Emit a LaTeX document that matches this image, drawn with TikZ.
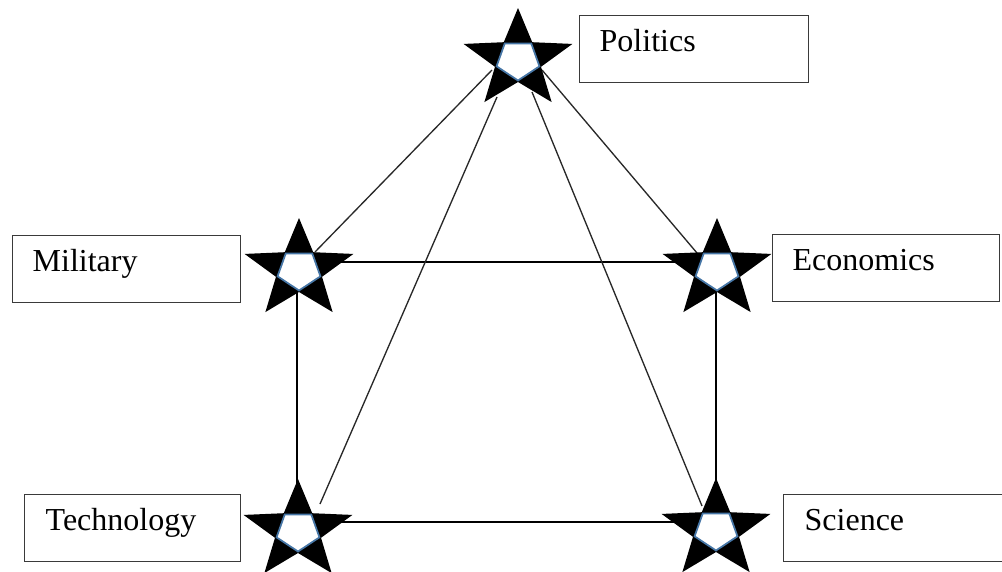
\documentclass[tikz,border=0pt]{standalone}
\usepackage{fontspec}
\setmainfont{Liberation Serif}
\usetikzlibrary{calc,positioning}
\definecolor{starBlue}{RGB}{70,118,166}
\definecolor{boxGray}{RGB}{58,58,58}
\definecolor{lineGray}{RGB}{40,40,40}
\newcommand{\StarMark}[1]{%
  \begin{scope}[shift={(#1)},xscale=1.1]
    \fill[black] (-90:52)--(-54:22)--(-18:52)--(18:22)--(54:52)--(90:22)--(126:52)--(162:22)--(198:52)--(234:22)--cycle;
    \filldraw[fill=white,draw=starBlue,line width=1.3pt] (-54:20.5)--(18:20.5)--(90:20.5)--(162:20.5)--(234:20.5)--cycle;
  \end{scope}}

\begin{document}
\begin{tikzpicture}[x=0.75pt,y=-0.75pt,line cap=butt,line join=miter,
  labelbox/.style={draw=boxGray,line width=1pt,anchor=north west,inner xsep=15pt,inner ysep=0pt,
    minimum height=50.25pt,align=left,text height=0.7em,text depth=0.35em,
    font=\fontsize{24}{28}\selectfont},
  thickline/.style={black,line width=1.8pt},
  thinline/.style={lineGray,line width=1pt}]
  \useasboundingbox (0,0) rectangle (1002,571);
  \clip (0,0) rectangle (1002,571);
  \coordinate (pol) at (518,60);
  \coordinate (mil) at (299,270);
  \coordinate (eco) at (717,270);
  \coordinate (tec) at (298,531);
  \coordinate (sci) at (716,530);
  % labels
  \node[labelbox,text width=141.75pt] (politics) at (579,15) {Politics};
  \node[labelbox,text width=141pt] (military) at (12,235) {Military};
  \node[labelbox,text width=140.25pt] (economics) at (772,234) {Economics};
  \node[labelbox,text width=130.5pt,inner xsep=15.75pt] (technology) at (24,494) {Technology};
  \node[labelbox,text width=140.25pt,inner xsep=15.75pt] (science) at (783,494) {Science};
  % square between the four lower stars
  \draw[thickline] ($(mil)+(0,-8)$) -- ($(eco)+(0,-8)$);
  \draw[thickline] ($(mil)+(-2,0)$) -- ($(tec)+(-1,0)$);
  \draw[thickline] ($(eco)+(-1,0)$) -- ($(sci)+(0,0)$);
  \draw[thickline] ($(tec)+(0,-9)$) -- ($(sci)+(0,-8)$);
  % lines from the top star
  \draw[thinline] ($(pol)+(-26,10)$) -- ($(mil)+(16,-18)$);
  \draw[thinline] ($(pol)+(-21,37)$) -- ($(tec)+(22,-27)$);
  \draw[thinline] ($(pol)+(14,32)$) -- ($(sci)+(-14,-24)$);
  \draw[thinline] ($(pol)+(24,10)$) -- ($(eco)+(-20,-17)$);
  % stars on top
  \StarMark{pol}
  \StarMark{mil}
  \StarMark{eco}
  \StarMark{tec}
  \StarMark{sci}
\end{tikzpicture}
\end{document}
